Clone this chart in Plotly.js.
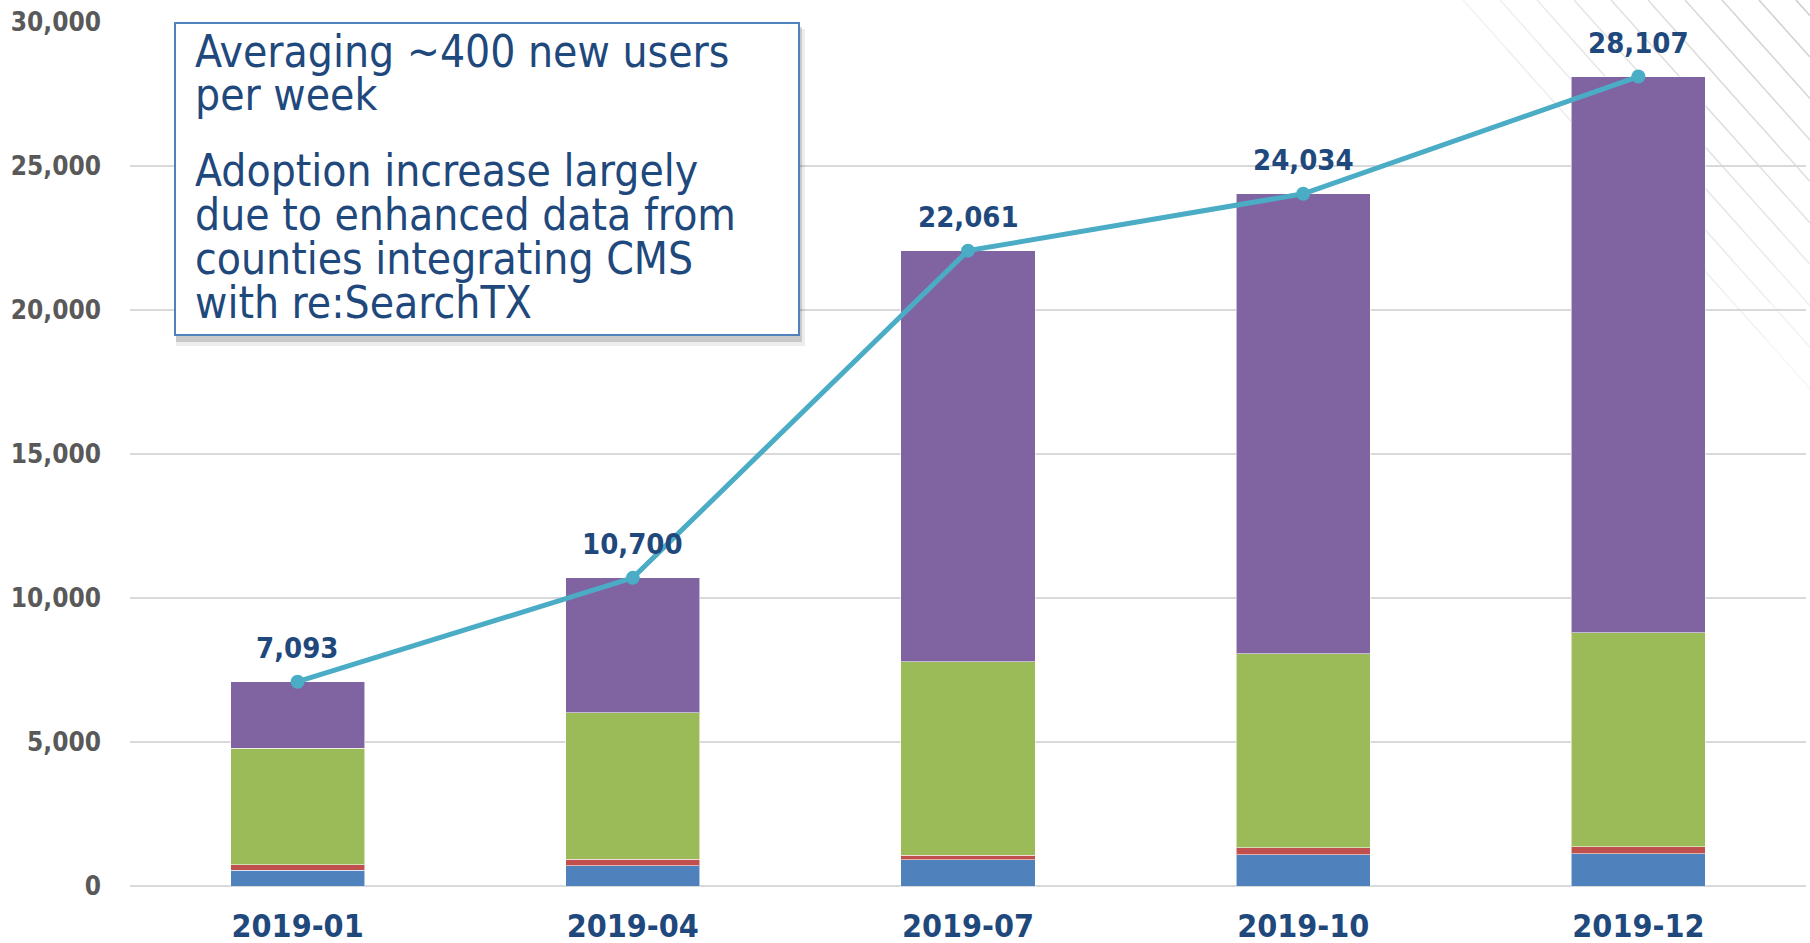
<!DOCTYPE html>
<html>
<head>
<meta charset="utf-8">
<script src="https://cdn.plot.ly/plotly-3.0.1.min.js"></script>
<style>html,body{margin:0;padding:0;background:#fff;}#chart{width:1810px;height:943px;}</style>
</head>
<body>
<div id="chart"></div>
<script>
// ---- data ----
const categories = ['2019-01', '2019-04', '2019-07', '2019-10', '2019-12'];
const blueSeries   = [550, 710, 920, 1090, 1125];
const redSeries    = [180, 220, 150, 230, 230];
const greenSeries  = [4060, 5090, 6720, 6750, 7430];
const purpleSeries = [2303, 4680, 14271, 15964, 19322];
const totals       = [7093, 10700, 22061, 24034, 28107];
const yTickValues  = [0, 5000, 10000, 15000, 20000, 25000, 30000];
const boxLines = [
  'Averaging ~400 new users',
  'per week',
  'Adoption increase largely',
  'due to enhanced data from',
  'counties integrating CMS',
  'with re:SearchTX'
];

// ---- geometry helpers (pixels -> paper) ----
const W = 1810, H = 943, PL = 130, PR = 1806, PT = 22, PB = 886;
const px = x => (x - PL) / (PR - PL);
const py = y => (PB - y) / (PB - PT);

const textFont = 'DejaVu Sans Condensed, Roboto, sans-serif';
const navy = '#1f497d';
const colors = {blue: '#4f81bd', red: '#c0504d', green: '#9bbb59', purple: '#8064a2', line: '#4bacc6'};

function barTrace(vals, color, name) {
  return {
    type: 'bar', x: categories, y: vals, name: name,
    marker: {color: color, line: {color: 'rgba(255,255,255,0.55)', width: 1}},
    hoverinfo: 'skip'
  };
}

const traces = [
  barTrace(blueSeries, colors.blue, 'A'),
  barTrace(redSeries, colors.red, 'B'),
  barTrace(greenSeries, colors.green, 'C'),
  barTrace(purpleSeries, colors.purple, 'D'),
  {
    type: 'scatter', mode: 'lines+markers', x: categories, y: totals,
    line: {color: colors.line, width: 5},
    marker: {color: colors.line, size: 14},
    hoverinfo: 'skip', cliponaxis: false
  }
];

// ---- decorative hatch (slide background) ----
const shapes = [];
const slope = 1.12;
for (let x0 = 1463; x0 <= 1810; x0 += 37) {
  const nSeg = 8;
  for (let s = 0; s < nSeg; s++) {
    const xa = x0 + (1810 - x0) * s / nSeg, xb = x0 + (1810 - x0) * (s + 1) / nSeg;
    const ya = (xa - x0) * slope, yb = (xb - x0) * slope;
    const mx = (xa + xb) / 2, my = (ya + yb) / 2;
    const d = Math.hypot(1810 - mx, my);
    let a = 0.5 * (1 - d / 430);
    if (a <= 0.02) continue;
    shapes.push({type: 'line', xref: 'paper', yref: 'paper', layer: 'below',
      x0: px(xa), y0: py(ya), x1: px(xb), y1: py(yb),
      line: {color: 'rgba(150,150,150,' + a.toFixed(3) + ')', width: 1.5}});
  }
}

// ---- text box with shadow ----
const bx0 = 175, by0 = 23, bx1 = 799, by1 = 335;
shapes.push({type: 'rect', xref: 'paper', yref: 'paper', layer: 'above',
  x0: px(bx0 + 1), y0: py(by0 + 6), x1: px(bx1 + 6), y1: py(by1 + 11),
  fillcolor: 'rgba(0,0,0,0.07)', line: {width: 0}});
shapes.push({type: 'rect', xref: 'paper', yref: 'paper', layer: 'above',
  x0: px(bx0 + 1), y0: py(by0 + 4), x1: px(bx1 + 3), y1: py(by1 + 7),
  fillcolor: 'rgba(0,0,0,0.15)', line: {width: 0}});
shapes.push({type: 'rect', xref: 'paper', yref: 'paper', layer: 'above',
  x0: px(bx0), y0: py(by0), x1: px(bx1), y1: py(by1),
  fillcolor: '#ffffff', line: {color: '#4f81bd', width: 2}});

const annotations = [];
const lineCenters = [52, 95, 170, 214, 258, 302];
boxLines.forEach((t, i) => {
  annotations.push({xref: 'paper', yref: 'paper', x: px(193), y: py(lineCenters[i]),
    xanchor: 'left', yanchor: 'middle', showarrow: false, text: t,
    font: {family: textFont, size: 44, color: navy}});
});
// total labels
categories.forEach((c, i) => {
  annotations.push({xref: 'x', yref: 'y', x: c, y: totals[i], yshift: 34,
    xanchor: 'center', yanchor: 'middle', showarrow: false,
    text: totals[i].toLocaleString('en-US'),
    font: {family: textFont, size: 29, color: navy, weight: 'bold'}});
});

const layout = {
  width: W, height: H,
  margin: {l: PL, r: W - PR, t: PT, b: H - PB, pad: 0},
  paper_bgcolor: '#ffffff', plot_bgcolor: 'rgba(0,0,0,0)',
  barmode: 'stack', bargap: 0.6, showlegend: false, hovermode: false,
  xaxis: {type: 'category', showgrid: false, showline: false, zeroline: false,
    ticks: '', ticklabelstandoff: 18,
    tickfont: {family: textFont, size: 32, color: navy, weight: 'bold'}},
  yaxis: {range: [0, 30000], tickvals: yTickValues, tickformat: ',d',
    showgrid: true, gridcolor: '#d9d9d9', gridwidth: 1.5,
    zeroline: true, zerolinecolor: '#d9d9d9', zerolinewidth: 2,
    showline: false, ticks: '', ticklabelstandoff: 28,
    tickfont: {family: textFont, size: 26, color: '#595959', weight: 'bold'}},
  shapes: shapes, annotations: annotations
};

Plotly.newPlot('chart', traces, layout, {displayModeBar: false, staticPlot: true});
</script>
</body>
</html>
